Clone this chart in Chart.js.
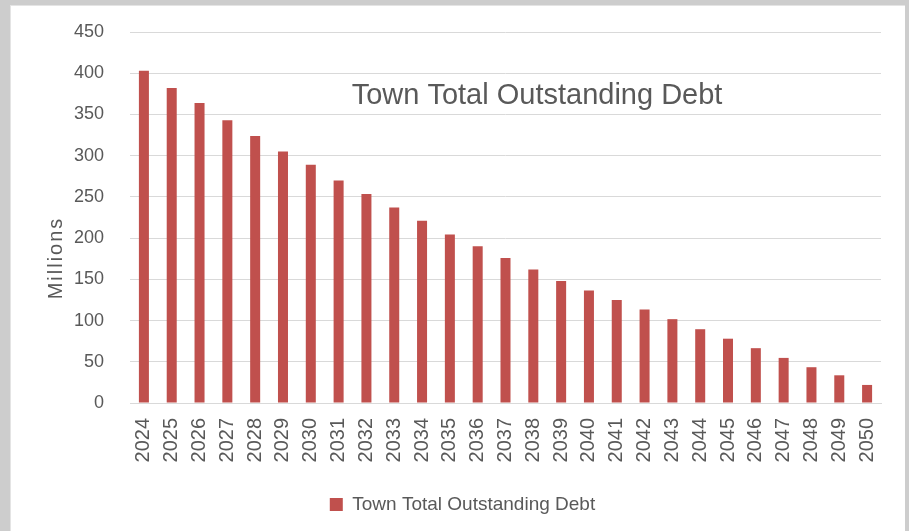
<!DOCTYPE html>
<html>
<head>
    <title>Town Total Outstanding Debt</title>
    <script src="https://cdn.jsdelivr.net/npm/chart.js@4.4.1/dist/chart.umd.min.js"></script>
    <style>
        html, body { margin: 0; padding: 0; background: #cdcdcd; }
        #frame { position: absolute; left: 10px; top: 5px; width: 894px; height: 526px; background: #ffffff; border-left: 1px solid #e4e4e4; border-top: 1px solid #e4e4e4; }
        #wrap { position: absolute; left: 1px; top: 1px; width: 892px; height: 525px; }
    </style>
</head>
<body>
    <div id="frame"><div id="wrap"><canvas id="debtChart"></canvas></div></div>

    <script>
        // Values (millions)
        const years = ['2024', '2025', '2026', '2027', '2028', '2029', '2030', '2031', '2032',
            '2033', '2034', '2035', '2036', '2037', '2038', '2039', '2040', '2041', '2042',
            '2043', '2044', '2045', '2046', '2047', '2048', '2049', '2050'];
        const debt = [403, 382, 364, 343, 324, 305, 289, 270, 253.5, 237, 221, 204.5, 190,
            176, 162, 148, 136.5, 125, 113.5, 101.7, 89.5, 78, 66.5, 54.7, 43.4, 33.6, 21.9];
        const seriesName = 'Town Total Outstanding Debt';
        const chartTitle = 'Town Total Outstanding Debt';
        const axisTitle = 'Millions';

        const textColor = '#595959';
        const font = '"Liberation Sans", Arial, sans-serif';

        // title sits inside the plot area, y label drawn with letter spacing
        const extraText = {
            id: 'extraText',
            afterLayout(chart) {
                // legend in the reference sits a bit right of centre
                chart.legend.left += 32;
                chart.legend.width -= 32;
            },
            afterDraw(chart) {
                const ctx = chart.ctx;
                const a = chart.chartArea;
                ctx.save();
                ctx.fillStyle = textColor;
                ctx.font = '29px ' + font;
                ctx.textAlign = 'center';
                ctx.textBaseline = 'alphabetic';
                ctx.fillText(chartTitle, a.left + (a.right - a.left) * 0.542, a.top + 72);

                ctx.translate(a.left - 74, a.top + 226);
                ctx.rotate(-Math.PI / 2);
                ctx.font = '20px ' + font;
                ctx.letterSpacing = '2px';
                ctx.textBaseline = 'middle';
                ctx.fillText(axisTitle, 0, 0);
                ctx.restore();
            }
        };

        new Chart(document.getElementById('debtChart'), {
            type: 'bar',
            data: {
                labels: years,
                datasets: [{
                    label: seriesName,
                    data: debt,
                    backgroundColor: '#c0504d',
                    borderWidth: 0,
                    categoryPercentage: 1,
                    barPercentage: 0.36
                }]
            },
            options: {
                responsive: true,
                maintainAspectRatio: false,
                animation: false,
                layout: { padding: { left: 0, right: 23, top: 25, bottom: 8 } },
                plugins: {
                    title: { display: false },
                    tooltip: { enabled: false },
                    legend: {
                        position: 'bottom',
                        labels: {
                            color: textColor,
                            font: { size: 19, family: font },
                            boxWidth: 13,
                            boxHeight: 13,
                            padding: 10
                        }
                    }
                },
                scales: {
                    x: {
                        grid: { display: false },
                        border: { color: '#d9d9d9', width: 1 },
                        ticks: {
                            color: textColor,
                            font: { size: 20, family: font },
                            minRotation: 90,
                            maxRotation: 90,
                            autoSkip: false,
                            padding: 7
                        },
                        afterFit(scale) {
                            scale.height = 82;
                            scale.paddingLeft = 0;
                            scale.paddingRight = 0;
                        }
                    },
                    y: {
                        min: 0,
                        max: 450,
                        ticks: {
                            stepSize: 50,
                            color: textColor,
                            font: { size: 18, family: font },
                            padding: 26
                        },
                        grid: { color: '#d9d9d9', lineWidth: 1, drawTicks: false },
                        border: { display: false },
                        afterFit(scale) {
                            scale.width = 118;
                            scale.paddingTop = 0;
                            scale.paddingBottom = 0;
                        }
                    }
                }
            },
            plugins: [extraText]
        });
    </script>
</body>
</html>
